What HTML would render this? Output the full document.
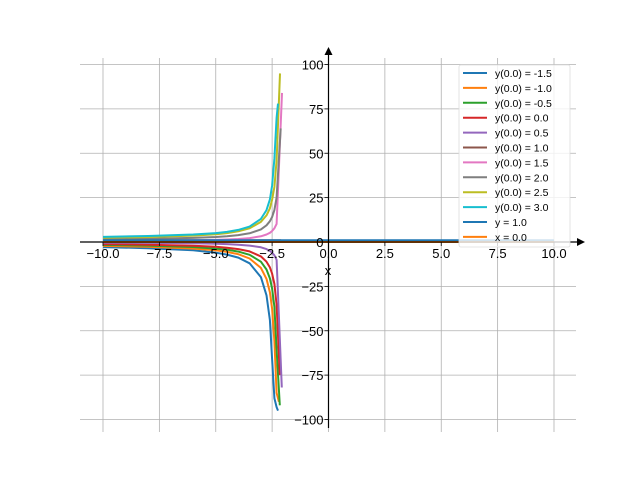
<!DOCTYPE html>
<html><head><meta charset="utf-8"><style>
body{margin:0;background:#fff;}
svg{display:block;font-family:"Liberation Sans",sans-serif;}
</style></head><body>
<svg id="chart" width="640" height="480" viewBox="0 0 640 480">
<g id="grid"></g>
<g id="series"></g>
<g id="axes"></g>
<g id="legend"></g>
</svg>
<script>
const xTicks=[-10,-7.5,-5,-2.5,0,2.5,5,7.5,10];
const xTickLabels=["−10.0","−7.5","−5.0","−2.5","0.0","2.5","5.0","7.5","10.0"];
const yTicks=[-100,-75,-50,-25,0,25,50,75,100];
const yTickLabels=["−100","−75","−50","−25","0","25","50","75","100"];
const sampleX=[-10,-8,-6,-5,-4.5,-4,-3.5,-3,-2.75,-2.6,-2.5,-2.4,-2.3];
const seriesLabels=["y(0.0) = -1.5","y(0.0) = -1.0","y(0.0) = -0.5","y(0.0) = 0.0","y(0.0) = 0.5","y(0.0) = 1.0","y(0.0) = 1.5","y(0.0) = 2.0","y(0.0) = 2.5","y(0.0) = 3.0"];
const colors=["#1f77b4","#ff7f0e","#2ca02c","#d62728","#9467bd","#8c564b","#e377c2","#7f7f7f","#bcbd22","#17becf"];
const s0=[-2.9,-3.5,-4.7,-6.0,-7.1,-8.8,-12,-19.8,-30,-44,-66,-88,-93];
const s1=[-2.2,-2.7,-3.7,-4.7,-5.6,-6.9,-9.3,-14.6,-20.8,-28.3,-37.5,-55.8,-85];
const s2=[-1.65,-2.0,-2.8,-3.7,-4.3,-5.4,-7.2,-11.1,-15.5,-20.5,-26.2,-36.5,-60.5];
const s3=[-1.2,-1.5,-2.1,-2.7,-3.2,-4.0,-5.3,-8.1,-11.1,-14.3,-17.8,-23.6,-35.3];
const s4=[-0.37,-0.5,-0.75,-1,-1.2,-1.5,-2,-3,-4,-5,-6,-7.5,-10];
const s5=[1,1,1,1,1,1,1,1,1,1,1,1,1];
const s6=[0.6,0.7,0.95,1.2,1.4,1.7,2.2,3.2,4.2,5.2,6.2,7.7,10.2];
const s7=[1.6,1.8,2.3,2.8,3.2,3.9,4.9,7.1,9.4,11.7,14.1,18,25];
const s8=[2.4,2.8,3.6,4.4,5.0,6.0,7.7,11.3,15,19,23.8,31,46];
const s9=[2.9,3.4,4.2,5.0,5.7,6.8,8.7,13,18,24,31.8,47,70];
const seriesValues=[s0,s1,s2,s3,s4,s5,s6,s7,s8,s9];
const endX=[-2.24,-2.2,-2.16,-2.16,-2.07,-2.1,-2.06,-2.12,-2.15,-2.24];
const endY=[-95,-90,-92,-75,-82,1,84,64,95,78];
const hLineY=[1.0,0.0];
const hLineLabels=["y = 1.0","x = 0.0"];

const X0=328.5,XS=22.55,Y0=242,YS=1.775;
const sx=v=>X0+v*XS, sy=v=>Y0-v*YS;
const NS="http://www.w3.org/2000/svg";
function mk(tag,attrs,parent){const e=document.createElementNS(NS,tag);for(const k in attrs)e.setAttribute(k,attrs[k]);parent.appendChild(e);return e;}
const grid=document.getElementById('grid'),axes=document.getElementById('axes'),ser=document.getElementById('series'),leg=document.getElementById('legend');
xTicks.forEach((t,i)=>{
  const l=mk('line',{x1:sx(t),x2:sx(t),y1:58,y2:432,stroke:'#b0b0b0','stroke-width':0.8},grid);
  
  
  const tk=mk('line',{x1:sx(t),x2:sx(t),y1:Y0,y2:Y0+4,stroke:'#000','stroke-width':0.8},axes);
  
  
  const tx=mk('text',{x:sx(t),y:Y0+16,'text-anchor':'middle','font-size':13},axes);
  tx.textContent=xTickLabels[i];
  
  
});
yTicks.forEach((t,i)=>{
  const l=mk('line',{x1:80,x2:576,y1:sy(t),y2:sy(t),stroke:'#b0b0b0','stroke-width':0.8},grid);
  
  
  const tk=mk('line',{x1:X0-4,x2:X0,y1:sy(t),y2:sy(t),stroke:'#000','stroke-width':0.8},axes);
  
  
  const tx=mk('text',{x:X0-5,y:sy(t)+5,'text-anchor':'end','font-size':13},axes);
  tx.textContent=yTickLabels[i];
  
  
});
seriesValues.forEach((vals,i)=>{
  let d='';
  vals.forEach((v,j)=>{ if(sampleX[j]<endX[i]) d+=(d?' L':'M')+sx(sampleX[j]).toFixed(1)+','+sy(v).toFixed(1); });
  d+=' L'+sx(endX[i]).toFixed(1)+','+sy(endY[i]).toFixed(1);
  const p=mk('path',{d:d,fill:'none',stroke:colors[i],'stroke-width':2,'stroke-linejoin':'round'},ser);
  
  
});
hLineY.forEach((v,i)=>{
  const l=mk('line',{x1:sx(-10),x2:sx(10),y1:sy(v),y2:sy(v),stroke:colors[i],'stroke-width':2},ser);
  
  
});
const xa=mk('line',{x1:80,x2:578,y1:Y0,y2:Y0,stroke:'#000','stroke-width':1.2},axes);


const xaa=mk('polygon',{points:'585,242 577,238 577,246',fill:'#000'},axes);


const ya=mk('line',{x1:X0,x2:X0,y1:55,y2:428,stroke:'#000','stroke-width':1.2},axes);


const yaa=mk('polygon',{points:'328.5,47 324.5,55 332.5,55',fill:'#000'},axes);


const xl=mk('text',{x:328,y:275,'text-anchor':'middle','font-size':13},axes);xl.textContent='x';


const lb=mk('rect',{x:459,y:65,width:111,height:182,fill:'#fff','fill-opacity':0.8,stroke:'#ddd','stroke-width':0.8,rx:2},leg);


const allLabels=seriesLabels.concat(hLineLabels);
const allColors=colors.concat([colors[0],colors[1]]);
allLabels.forEach((lab,i)=>{
  const y=73+i*14.9;
  const ln=mk('line',{x1:463,x2:487,y1:y,y2:y,stroke:allColors[i],'stroke-width':2},leg);
  
  
  const t=mk('text',{x:495,y:y+4,'font-size':10.5},leg);t.textContent=lab;
  
  
});
</script>
</body></html>
